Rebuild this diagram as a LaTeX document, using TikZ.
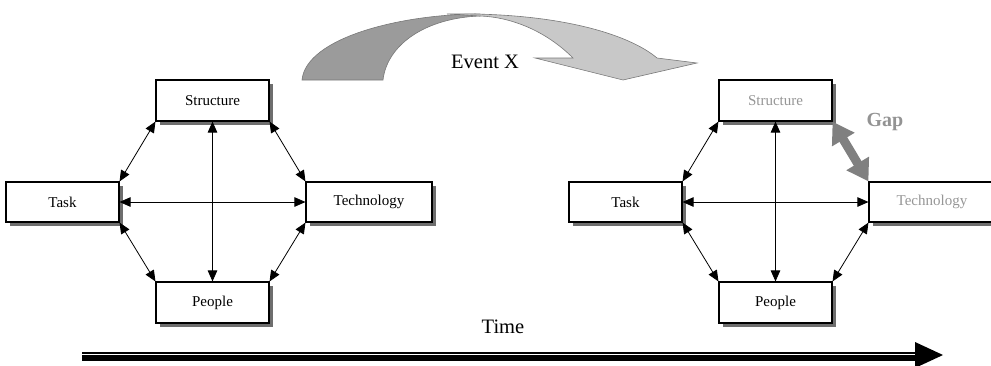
\documentclass[tikz,border=0pt]{standalone}
\usepackage{fontspec}
\setmainfont{Liberation Serif}
\usepackage{tikz}
\usetikzlibrary{arrows.meta,shadows}
\definecolor{shade}{RGB}{110,110,110}
\definecolor{banddark}{RGB}{155,155,155}
\definecolor{bandlight}{RGB}{200,200,200}
\definecolor{bandedge}{RGB}{120,120,120}
\definecolor{gapgray}{RGB}{128,128,128}
\definecolor{faded}{RGB}{150,150,150}

\tikzset{
  factor/.style={draw=black, line width=1.1pt, fill=white, inner sep=0pt,
    minimum width=113pt, minimum height=41pt, font=\fontsize{15}{18}\selectfont,
    drop shadow={shadow xshift=4pt, shadow yshift=-4pt, fill=shade, opacity=1}},
  link/.style={{Triangle[length=11pt,width=9.5pt]}-{Triangle[length=11pt,width=9.5pt]}, line width=0.8pt},
  gaplink/.style={{Triangle[length=21pt,width=25pt]}-{Triangle[length=21pt,width=25pt]}, line width=9pt, gapgray},
  bigtext/.style={font=\fontsize{20.5}{24}\selectfont}
}

\begin{document}
\begin{tikzpicture}[x=1pt, y=-1pt, >=Stealth]
  \useasboundingbox (0,0) rectangle (991,365);

  % Curved arrow (Event X)
  \filldraw[fill=banddark, draw=bandedge, line width=0.6pt]
    (302,80) .. controls (306,38) and (400,14) .. (480,14) -- (480,16)
    .. controls (425,18) and (387,45) .. (383,80) -- cycle;
  \filldraw[fill=bandlight, draw=bandedge, line width=0.6pt]
    (447,14) .. controls (560,12) and (630,35) .. (657,58) -- (697,63) -- (623,80)
    -- (535,58) -- (573,58) .. controls (545,30) and (510,17) .. (480,16) -- cycle;
  \node[bigtext] (eventText) at (485,62) {Event X};

  % Before the event
  \node[factor] (lStruct) at (212.5,100.5) {Structure};
  \node[factor, minimum height=40pt] (lTask) at (62.5,202) {Task};
  \node[factor, minimum width=126pt, minimum height=40pt] (lTech) at (369,202) {Technology};
  \node[factor] (lPeople) at (212.5,302.5) {People};

  \draw[link] (lStruct.south west) -- (lTask.north east);
  \draw[link] (lStruct.south east) -- (lTech.north west);
  \draw[link] (lTask.south east) -- (lPeople.north west);
  \draw[link] (lTech.south west) -- (lPeople.north east);
  \draw[link] (lStruct.south) -- (lPeople.north);
  \draw[link] (lTask.east) -- (lTech.west);

  % After the event
  \node[factor, text=faded] (rStruct) at (775.5,100.5) {Structure};
  \node[factor, minimum height=40pt] (rTask) at (625.5,202) {Task};
  \node[factor, minimum width=126pt, minimum height=40pt, text=faded] (rTech) at (932,202) {Technology};
  \node[factor] (rPeople) at (775.5,302.5) {People};

  \draw[link] (rStruct.south west) -- (rTask.north east);
  \draw[link] (rTask.south east) -- (rPeople.north west);
  \draw[link] (rTech.south west) -- (rPeople.north east);
  \draw[link] (rStruct.south) -- (rPeople.north);
  \draw[link] (rTask.east) -- (rTech.west);

  % Gap
  \draw[gaplink] (rStruct.south east) -- (rTech.north west);
  \node[font=\fontsize{20}{24}\selectfont\bfseries, text=gapgray!85] (gapText) at (885,122) {Gap};

  % Time axis
  \node[bigtext] (timeText) at (503,327) {Time};
  \coordinate (timeStart) at (82,355);
  \coordinate (timeEnd) at (915,355);
  \draw[line width=2pt] (82,352.5) -- (915,352.5);
  \draw[line width=5.3pt] (82,358) -- (915,358);
  \fill (915,342) -- (943,355) -- (915,368) -- cycle;
\end{tikzpicture}
\end{document}
